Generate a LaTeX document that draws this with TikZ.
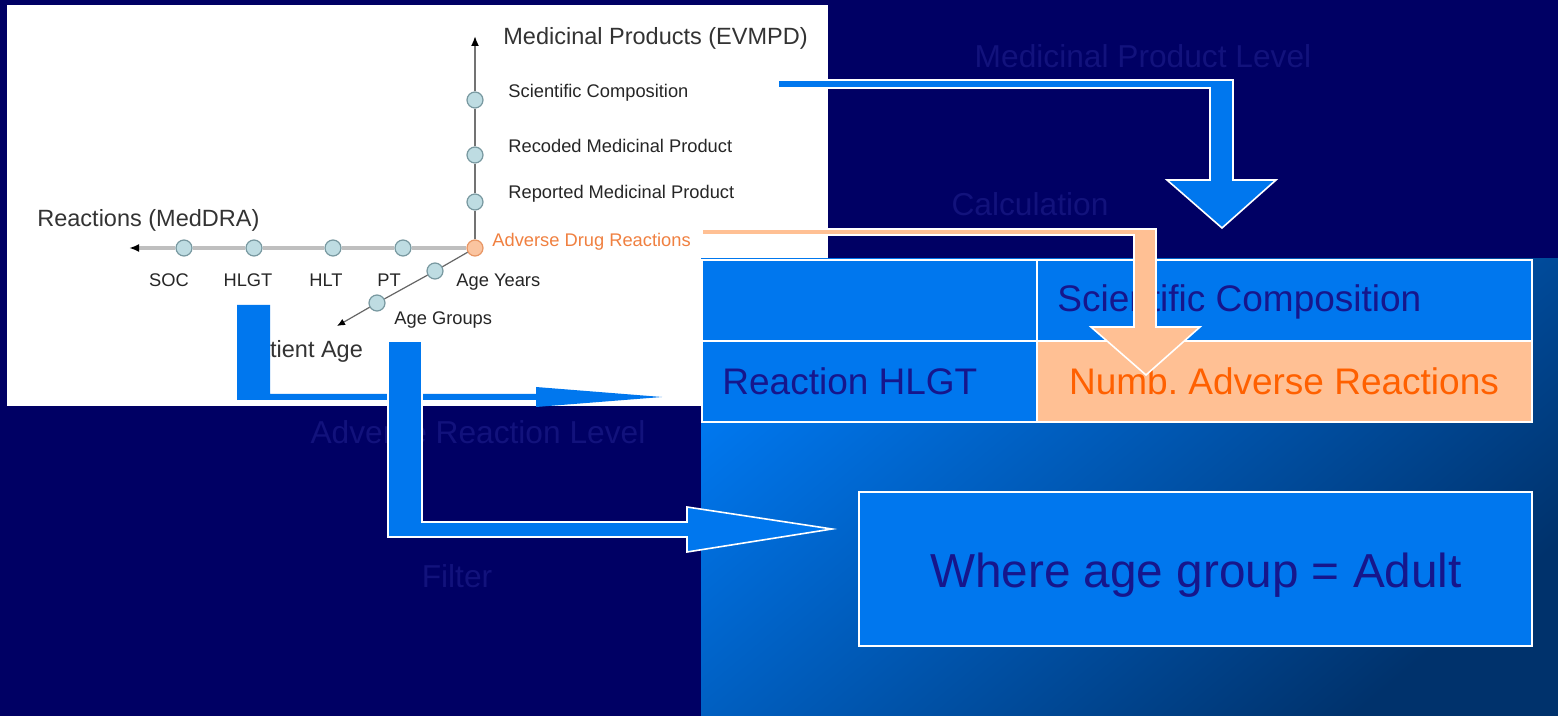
\documentclass[tikz,border=0pt]{standalone}
\usepackage{fontspec}
\setmainfont{Liberation Sans}
\usetikzlibrary{arrows,arrows.meta,shapes,positioning}
\frenchspacing

\definecolor{navy}{RGB}{0,0,100}
\definecolor{faintblue}{RGB}{18,18,124}
\definecolor{boxblue}{RGB}{0,119,238}
\definecolor{midblue}{RGB}{0,98,204}
\definecolor{deepblue}{RGB}{0,50,108}
\definecolor{peach}{RGB}{255,192,148}
\definecolor{numborange}{RGB}{255,96,0}
\definecolor{inkblue}{RGB}{22,22,140}
\definecolor{dotfill}{RGB}{190,220,226}
\definecolor{dotline}{RGB}{120,152,160}
\definecolor{adrfill}{RGB}{250,196,160}
\definecolor{adrline}{RGB}{232,150,100}
\definecolor{adrtext}{RGB}{240,128,64}

\begin{document}
\begin{tikzpicture}[x=0.5pt,y=-0.5pt,
            lvl/.style={circle,draw=dotline,fill=dotfill,line width=0.6pt,minimum size=8pt,inner sep=0pt},
            axisText/.style={inner sep=0pt,text=black!85,font=\fontsize{9.15}{11}\selectfont},
            axisTitle/.style={inner sep=0pt,text=black!80,font=\fontsize{11.75}{14}\selectfont},
            faint/.style={inner sep=0pt,text=faintblue,font=\fontsize{15.85}{19}\selectfont},
            cell/.style={draw=white,line width=1pt,fill=boxblue,inner sep=0pt,anchor=north west},
            cellText/.style={inner sep=0pt,text=inkblue,font=\fontsize{18.5}{22}\selectfont},
            bent/.style={draw=white,line width=0.8pt,fill=boxblue,line join=miter},
            tip/.style={-{Latex[length=5pt,width=4pt,color=black]}}]
            \fill[navy] (0,0) rectangle (1558,716);
            \useasboundingbox (0,0) rectangle (1558,716);

            \node[faint,anchor=base] (mplevel) at (1143,68) {Medicinal Product Level};
            \node[faint,anchor=base] (calc) at (1030,216) {Calculation};
            \node[faint,anchor=base] (arlevel) at (478,444) {Adverse Reaction Level};
            \node[faint,anchor=base] (filter) at (457,587) {Filter};

            \fill[white] (7,5) rectangle (828,406);

            \node[lvl,draw=adrline,fill=adrfill] (adr) at (475,248) {};
            \node[lvl] (pt) at (403,248) {};
            \node[lvl] (hlt) at (333,248) {};
            \node[lvl] (hlgt) at (254,248) {};
            \node[lvl] (soc) at (184,248) {};
            \coordinate (reacEnd) at (129,248);
            \node[lvl] (reported) at (475,202) {};
            \node[lvl] (recoded) at (475,155) {};
            \node[lvl] (scicomp) at (475,100) {};
            \coordinate (prodEnd) at (475,36);
            \node[lvl] (ageyears) at (435,271) {};
            \node[lvl] (agegroups) at (377,303) {};
            \coordinate (ageEnd) at (337,326);

            \path[draw=black!25,line width=2pt] (adr) edge (pt) (pt) edge (hlt) (hlt) edge (hlgt)
                  (hlgt) edge (soc) (soc) edge[tip] (reacEnd);
            \path[draw=black!55,line width=0.9pt] (adr) edge (reported) (reported) edge (recoded)
                  (recoded) edge (scicomp) (scicomp) edge[tip] (prodEnd);
            \path[draw=black!60,line width=0.6pt] (adr) edge (ageyears) (ageyears) edge (agegroups)
                  (agegroups) edge[-{Latex[length=4pt,width=3.5pt,color=black]}] (ageEnd);

            \node[axisText,anchor=base] (socL) at (169,287) {SOC};
            \node[axisText,anchor=base] (hlgtL) at (248,287) {HLGT};
            \node[axisText,anchor=base] (hltL) at (326,287) {HLT};
            \node[axisText,anchor=base] (ptL) at (389,287) {PT};
            \node[axisText,anchor=base west] (ageyL) at (456,287) {Age Years};
            \node[axisText,anchor=base west] (agegL) at (394,325) {Age Groups};
            \node[axisText,anchor=base west] (scicompL) at (508,98) {Scientific Composition};
            \node[axisText,anchor=base west] (recodedL) at (508,153) {Recoded Medicinal Product};
            \node[axisText,anchor=base west] (reportedL) at (508,199) {Reported Medicinal Product};
            \node[axisText,anchor=base west,text=adrtext] (adrL) at (492,247) {Adverse Drug Reactions};
            \node[axisTitle,anchor=base west] (reacT) at (37,227) {Reactions (MedDRA)};
            \node[axisTitle,anchor=base west] (prodT) at (503,45) {Medicinal Products (EVMPD)};
            \node[axisTitle,anchor=base west] (ageT) at (241,358) {Patient Age};

            \shade[top color=boxblue,middle color=midblue,bottom color=deepblue,shading angle=40]
                  (701,259) rectangle (1558,716);
            \node[cell,minimum width=167.5pt,minimum height=40.5pt] (emptyCell) at (701,259) {};
            \node[cell,minimum width=247.5pt,minimum height=40.5pt] (sciCell) at (1036,259) {};
            \node[cell,minimum width=167.5pt,minimum height=40.5pt] (hlgtCell) at (701,340) {};
            \node[cell,fill=peach,minimum width=247.5pt,minimum height=40.5pt] (numbCell) at (1036,340) {};
            \node[cellText,anchor=base west] (sciT) at (1057,312) {Scientific Composition};
            \node[cellText,anchor=base west] (hlgtT) at (722,395) {Reaction HLGT};
            \node[cellText,anchor=base,text=numborange] (numbT) at (1284,395) {Numb. Adverse Reactions};
            \node[cell,minimum width=336.5pt,minimum height=77pt] (whereBox) at (858,491) {};
            \node[cellText,anchor=base,font=\fontsize{23.85}{28}\selectfont] (whereT) at (1196,587) {Where age group = Adult};

            \filldraw[bent] (778,80) -- (1233,80) -- (1233,180) -- (1276,180) -- (1222,228)
                  -- (1167,180) -- (1210,180) -- (1210,88) -- (778,88) -- cycle;
            \filldraw[bent,fill=peach] (702,229) -- (1156,229) -- (1156,327) -- (1200,327) -- (1146,375)
                  -- (1091,327) -- (1134,327) -- (1134,235) -- (702,235) -- cycle;
            \filldraw[bent,draw=none] (237,305) -- (270,305) -- (270,394) -- (536,394) -- (536,387)
                  -- (662,397) -- (536,407) -- (536,400) -- (237,400) -- cycle;
            \filldraw[bent] (388,341) -- (422,341) -- (422,522) -- (687,522) -- (687,507)
                  -- (832,529) -- (687,552) -- (687,537) -- (388,537) -- cycle;
        \end{tikzpicture}
\end{document}
